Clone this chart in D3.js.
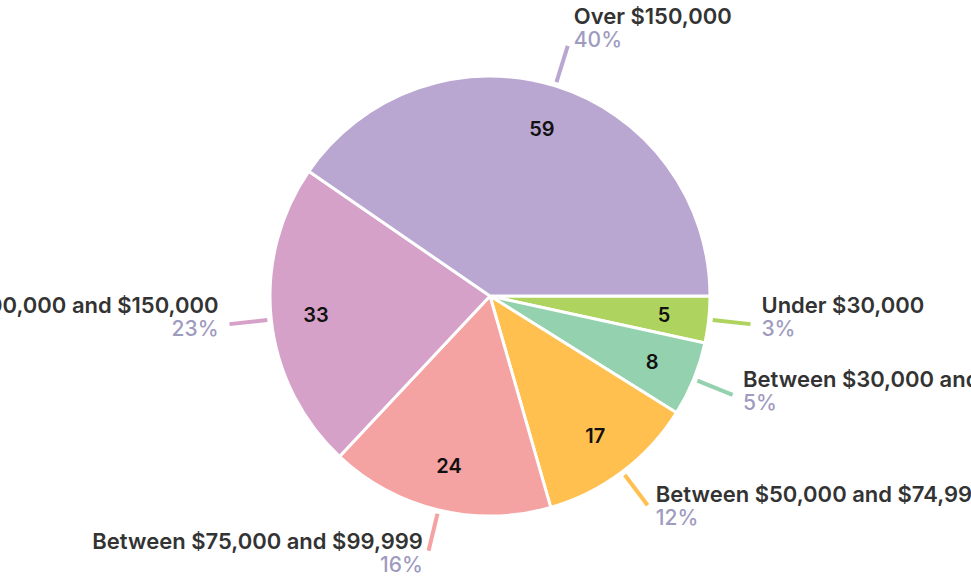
<!DOCTYPE html>
<html>
<head>
<meta charset="utf-8">
<script src="https://cdn.jsdelivr.net/npm/d3@7"></script>
<style>
  html, body { margin: 0; padding: 0; background: #fff; }
  svg { display: block; font-family: Inter, "Noto Sans", sans-serif; }
</style>
</head>
<body>
<svg id="chart" width="971" height="578"></svg>
<script>
const categories = [
  "Under $30,000",
  "Between $30,000 and $49,999",
  "Between $50,000 and $74,999",
  "Between $75,000 and $99,999",
  "Between $100,000 and $150,000",
  "Over $150,000"
];
const values = [5, 8, 17, 24, 33, 59];
const colors = ["#aed35e", "#94d1ae", "#ffc04f", "#f5a2a3", "#d6a1c9", "#b9a6d1"];

const width = 971, height = 578;
const cx = 490, cy = 296, radius = 220;

const svg = d3.select("#chart");
const g = svg.append("g").attr("transform", `translate(${cx}, ${cy})`);

const data = categories.map((c, i) => ({ name: c, value: values[i], color: colors[i] }));
const total = d3.sum(values);

// pie starts at 3 o'clock and goes clockwise
const pie = d3.pie()
  .value((d) => d.value)
  .sort(null)
  .startAngle(Math.PI / 2)
  .endAngle(Math.PI / 2 + 2 * Math.PI);

const arcs = pie(data);

const arc = d3.arc().innerRadius(0).outerRadius(radius);
const valueArc = d3.arc().innerRadius(175).outerRadius(175);
const lineStart = d3.arc().innerRadius(224).outerRadius(224);
const lineEnd = d3.arc().innerRadius(262).outerRadius(262);

g.selectAll("path.slice")
  .data(arcs)
  .enter()
  .append("path")
  .attr("class", "slice")
  .attr("d", arc)
  .attr("fill", (d) => d.data.color)
  .attr("stroke", "#fff")
  .attr("stroke-width", 3)
  .attr("stroke-linejoin", "round");

// values inside the slices
g.selectAll("text.value")
  .data(arcs)
  .enter()
  .append("text")
  .attr("class", "value")
  .attr("transform", (d) => `translate(${valueArc.centroid(d)})`)
  .attr("text-anchor", "middle")
  .attr("dy", "0.36em")
  .attr("font-size", 20)
  .attr("font-weight", 600)
  .attr("fill", "#111")
  .text((d) => d.data.value);

// leader lines
g.selectAll("line.leader")
  .data(arcs)
  .enter()
  .append("line")
  .attr("class", "leader")
  .attr("x1", (d) => lineStart.centroid(d)[0])
  .attr("y1", (d) => lineStart.centroid(d)[1])
  .attr("x2", (d) => lineEnd.centroid(d)[0])
  .attr("y2", (d) => lineEnd.centroid(d)[1])
  .attr("stroke", (d) => d.data.color)
  .attr("stroke-width", 4);

// outside labels: name + percent
const mid = (d) => (d.startAngle + d.endAngle) / 2;
const labels = g.selectAll("g.label")
  .data(arcs)
  .enter()
  .append("g")
  .attr("class", "label")
  .attr("transform", (d) => {
    const [x, y] = lineEnd.centroid(d);
    const a = mid(d);
    const s = Math.sin(a);
    const dx = (4 + 7 * Math.abs(s)) * (s >= 0 ? 1 : -1);
    const dy = -12 - 10.5 * Math.cos(a);
    return `translate(${x + dx}, ${y + dy})`;
  })
  .attr("text-anchor", (d) => (Math.sin(mid(d)) >= 0 ? "start" : "end"));

labels.append("text")
  .attr("font-size", 22)
  .attr("font-weight", 600)
  .attr("fill", "#333")
  .text((d) => d.data.name);

labels.append("text")
  .attr("y", 23)
  .attr("font-size", 21)
  .attr("font-weight", 500)
  .attr("fill", "#9f9bbf")
  .text((d) => d3.format(".0%")(d.data.value / total));
</script>
</body>
</html>
